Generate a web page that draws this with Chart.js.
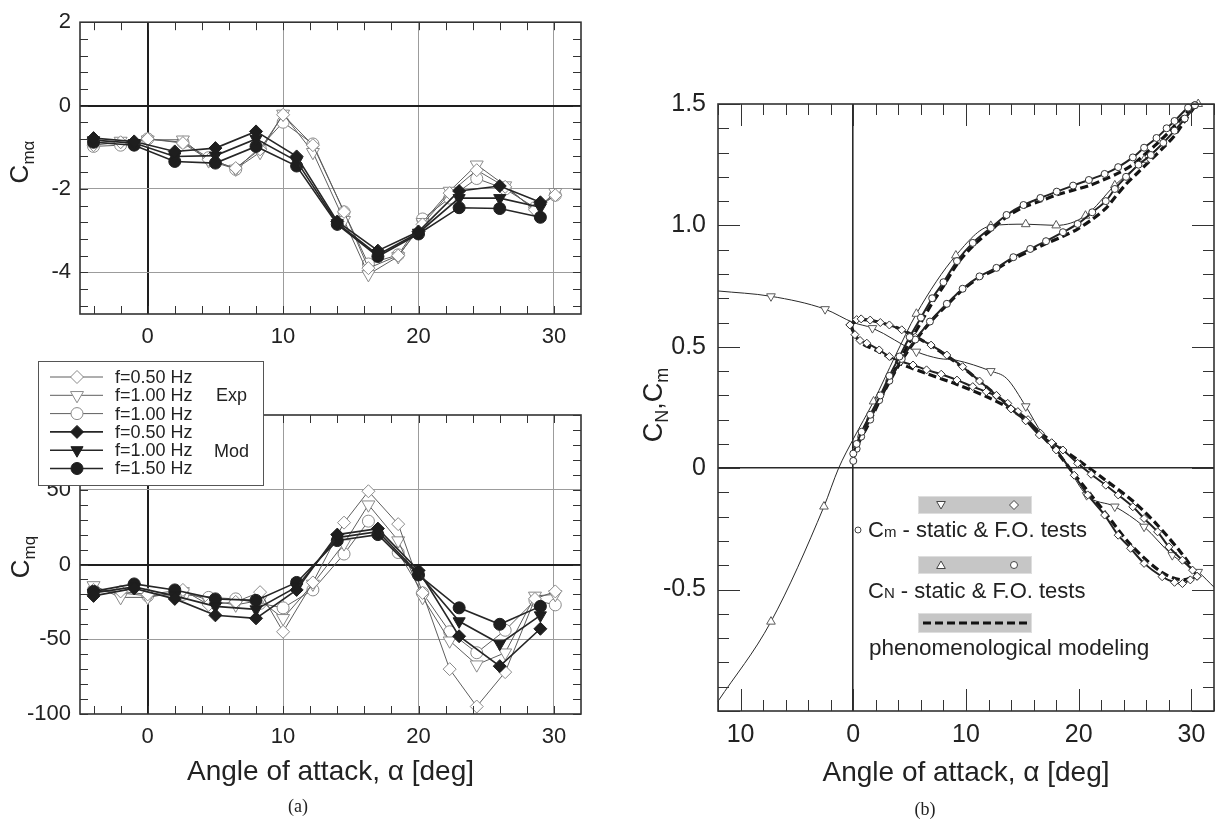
<!DOCTYPE html>
<html>
<head>
<meta charset="utf-8">
<title>Cm_alpha, Cm_q and CN, Cm vs angle of attack</title>
<script src="https://cdn.jsdelivr.net/npm/chart.js@4.4.1/dist/chart.umd.min.js"></script>
<style>
  body { margin: 0; background: #fff; }
  #wrap { position: relative; width: 1225px; height: 829px; overflow: hidden; background: #fff; }
  canvas { position: absolute; }
</style>
</head>
<body>
<div id="wrap">
  <canvas id="cma" width="600" height="352" style="left:0;top:0"></canvas>
  <canvas id="cmq" width="600" height="477" style="left:0;top:352px"></canvas>
  <canvas id="cncm" width="625" height="829" style="left:600px;top:0"></canvas>
</div>
<script>
// ---------- (a) damping / stiffness derivatives ----------
// experiment points and model points sit at different angles
const expAlpha = [-4, -2, 0, 2.6, 4.5, 6.5, 8.3, 10, 12.2, 14.5, 16.3, 18.5, 20.3, 22.3, 24.3, 26.4, 28.6, 30.1];
const modAlpha = [-4, -1, 2, 5, 8, 11, 14, 17, 20, 23, 26, 29];

const legendLabels = ['f=0.50 Hz', 'f=1.00 Hz', 'f=1.00 Hz', 'f=0.50 Hz', 'f=1.00 Hz', 'f=1.50 Hz'];

// C_m_alpha
const cmaExp050  = [-0.95, -0.88, -0.80, -0.90, -1.30, -1.50, -1.05, -0.22, -0.95, -2.55, -3.90, -3.60, -2.85, -2.10, -1.55, -1.95, -2.50, -2.15];
const cmaExp100  = [-0.90, -0.85, -0.82, -0.82, -1.32, -1.52, -1.12, -0.20, -1.12, -2.75, -4.05, -3.62, -2.80, -2.05, -1.42, -1.92, -2.52, -2.08];
const cmaExp100b = [-0.98, -0.95, -0.80, -0.88, -1.25, -1.53, -1.00, -0.40, -0.92, -2.55, -3.80, -3.58, -2.72, -2.22, -1.75, -2.00, -2.45, -2.15];
const cmaMod050  = [-0.78, -0.86, -1.10, -1.02, -0.62, -1.22, -2.78, -3.48, -3.02, -2.05, -1.93, -2.32];
const cmaMod100  = [-0.83, -0.90, -1.22, -1.20, -0.80, -1.33, -2.82, -3.58, -3.05, -2.22, -2.22, -2.44];
const cmaMod150  = [-0.88, -0.95, -1.34, -1.38, -0.98, -1.45, -2.85, -3.62, -3.08, -2.45, -2.47, -2.68];

// C_mq
const cmqExp050  = [-17, -18, -20, -17, -27, -25, -18.5, -45, -12, 28, 49, 27, -19, -70, -95, -72, -23, -18];
const cmqExp100  = [-14, -22, -22, -18, -24, -27, -24, -36, -13, 14, 40, 16, -22, -51, -67, -59, -21, -20];
const cmqExp100b = [-17, -19, -21, -20, -22, -23, -26, -29, -17, 7, 29, 8, -19, -45, -59, -44, -24, -27];
const cmqMod050  = [-21, -16, -23, -34, -36, -17, 20, 24, -4, -48, -68, -43];
const cmqMod100  = [-19, -15, -21, -28, -30, -15, 18, 22, -6, -38, -53, -34];
const cmqMod150  = [-18, -13, -17, -23, -24, -12, 16, 20, -7, -29, -40, -28];

const axisAlphaLabels = [0, 10, 20, 30];
const cmaLabels = [2, 0, -2, -4];
const cmqLabels = [50, 0, -50, -100];

// ---------- (b) normal force and pitching moment ----------
const cnStaticA = [-12, -7.3, -2.6, -1.3, 0, 1.8, 3.7, 5.6, 9.1, 12.2, 15.3, 18.0, 20.6, 23.2, 25.8, 28.3, 30.6];
const cnStaticV = [-0.96, -0.632, -0.158, 0.0, 0.12, 0.275, 0.46, 0.636, 0.876, 0.998, 1.005, 1.0, 1.04, 1.165, 1.27, 1.377, 1.5];

const cmStaticA = [-12, -7.3, -2.5, 0, 1.7, 5.6, 7.6, 9.1, 12.2, 13.6, 15.3, 16.8, 18.2, 20.7, 23.2, 25.8, 28.3, 30.6, 32];
const cmStaticV = [0.73, 0.708, 0.655, 0.60, 0.577, 0.48, 0.452, 0.445, 0.40, 0.37, 0.255, 0.14, 0.07, -0.111, -0.158, -0.241, -0.358, -0.427, -0.49];

// F.O. tests, C_N loop
const cnUpA = [0, 0.3, 0.74, 1.5, 2.4, 3.2, 4.1, 5.0, 6.0, 7.0, 8.0, 9.2, 10.6, 12.2, 13.6, 15.1, 16.6, 18.05, 19.5, 20.9, 22.3, 23.5, 24.8, 25.8, 26.9, 27.8, 28.5, 29.7, 30.3];
const cnUpV = [0.06, 0.10, 0.15, 0.22, 0.30, 0.38, 0.46, 0.54, 0.62, 0.70, 0.766, 0.853, 0.928, 0.99, 1.043, 1.084, 1.113, 1.139, 1.164, 1.187, 1.212, 1.24, 1.28, 1.32, 1.36, 1.40, 1.43, 1.485, 1.495];
const cnDnA = [30.3, 29.4, 28.5, 27.5, 26.4, 25.3, 24.2, 23.2, 22.4, 21.2, 19.9, 18.6, 17.1, 15.7, 14.2, 12.7, 11.2, 9.7, 8.3, 6.8, 5.5, 4.3, 3.2, 2.3, 1.5, 0.7, 0.3, 0];
const cnDnV = [1.495, 1.44, 1.39, 1.34, 1.29, 1.25, 1.20, 1.15, 1.10, 1.054, 1.006, 0.972, 0.935, 0.903, 0.869, 0.825, 0.79, 0.739, 0.677, 0.604, 0.53, 0.45, 0.36, 0.28, 0.20, 0.13, 0.08, 0.03];

// F.O. tests, C_m loop
const cmUpA = [-0.3, 0.3, 0.7, 1.5, 2.4, 3.2, 4.3, 5.5, 6.9, 8.3, 9.7, 11.2, 12.7, 14.0, 15.3, 16.5, 17.6, 18.6, 19.9, 21.1, 22.4, 23.5, 24.8, 25.8, 27.0, 28.0, 29.2, 30.1, 30.5];
const cmUpV = [0.59, 0.612, 0.615, 0.61, 0.60, 0.59, 0.57, 0.54, 0.507, 0.466, 0.418, 0.359, 0.30, 0.244, 0.195, 0.137, 0.105, 0.075, 0.02, -0.025, -0.07, -0.11, -0.159, -0.207, -0.262, -0.324, -0.379, -0.42, -0.445];
const cmDnA = [-0.3, 0.15, 0.6, 1.2, 2.3, 3.2, 4.2, 5.3, 6.5, 7.8, 9.2, 10.6, 11.8, 12.7, 13.7, 14.6, 15.5, 16.6, 18.0, 19.6, 20.8, 22.3, 23.5, 24.6, 25.8, 27.4, 28.5, 29.2, 29.9, 30.5];
const cmDnV = [0.59, 0.55, 0.526, 0.515, 0.487, 0.46, 0.44, 0.425, 0.405, 0.387, 0.363, 0.336, 0.315, 0.298, 0.267, 0.233, 0.20, 0.144, 0.075, -0.029, -0.11, -0.193, -0.276, -0.33, -0.392, -0.447, -0.47, -0.475, -0.46, -0.445];

// phenomenological modeling
const cnModUpA = [0, 1.5, 3.2, 4.1, 5.0, 6.0, 7.0, 8.0, 9.2, 10.6, 12.2, 13.6, 15.1, 16.6, 18.0, 19.5, 21.0, 22.3, 23.5, 24.8, 25.8, 26.9, 27.8, 28.5, 29.7, 30.3];
const cnModUpV = [0.08, 0.21, 0.36, 0.44, 0.52, 0.60, 0.68, 0.75, 0.84, 0.915, 0.98, 1.035, 1.075, 1.10, 1.125, 1.145, 1.165, 1.19, 1.215, 1.25, 1.29, 1.335, 1.375, 1.41, 1.47, 1.49];
const cnModDnA = [30.3, 29.4, 28.5, 27.5, 26.4, 25.3, 24.2, 23.2, 22.4, 21.2, 19.9, 18.6, 17.1, 15.7, 14.2, 12.7, 11.2, 9.7, 8.3, 6.8, 5.5, 4.3, 3.2, 2.3, 1.5, 0.7, 0];
const cnModDnV = [1.49, 1.43, 1.37, 1.32, 1.27, 1.22, 1.17, 1.115, 1.07, 1.025, 0.985, 0.955, 0.925, 0.895, 0.862, 0.82, 0.785, 0.735, 0.672, 0.60, 0.525, 0.445, 0.355, 0.275, 0.195, 0.125, 0.06];
const cmModUpA = [-0.3, 0.7, 2.4, 4.3, 6.9, 9.7, 12.7, 15.3, 17.6, 19.9, 22.4, 24.8, 27.0, 29.2, 30.5];
const cmModUpV = [0.59, 0.612, 0.60, 0.57, 0.505, 0.415, 0.30, 0.195, 0.11, 0.035, -0.05, -0.135, -0.235, -0.355, -0.44];
const cmModDnA = [-0.3, 0.6, 2.3, 4.2, 6.5, 9.2, 11.8, 13.7, 15.5, 18.0, 19.6, 22.3, 24.6, 27.4, 29.2, 30.5];
const cmModDnV = [0.59, 0.52, 0.48, 0.43, 0.39, 0.345, 0.295, 0.25, 0.19, 0.07, -0.025, -0.18, -0.315, -0.43, -0.46, -0.44];

const alphaLabelsB = [-10, 0, 10, 20, 30];
const coefLabels = [1.5, 1.0, 0.5, 0, -0.5];

// ---------- drawing helpers ----------
const FONT = '"Liberation Sans", Arial, Helvetica, sans-serif';
Chart.defaults.font.family = FONT;
Chart.defaults.color = '#222';

function range(a, b, s) {
  const r = [];
  for (let v = a; v <= b + 1e-9; v += s) r.push(Math.round(v * 1000) / 1000);
  return r;
}
const near = (list, v) => list.some(l => Math.abs(l - v) < 1e-6);
const pts = (xs, ys) => xs.map((x, i) => ({x, y: ys[i]}));

// frame + inward tick marks on all four sides
const frameTicks = {
  id: 'frameTicks',
  afterDatasetsDraw(chart, args, o) {
    const {ctx, chartArea: a} = chart;
    const xs = chart.scales.x, ys = chart.scales.y;
    ctx.save();
    ctx.strokeStyle = '#333';
    ctx.lineWidth = 1;
    ctx.beginPath();
    o.xMarks.forEach(v => {
      const p = Math.round(xs.getPixelForValue(v)) + 0.5;
      const len = near(o.xLong, v) ? o.long : o.short;
      ctx.moveTo(p, a.bottom); ctx.lineTo(p, a.bottom - len);
      ctx.moveTo(p, a.top); ctx.lineTo(p, a.top + len);
    });
    o.yMarks.forEach(v => {
      const p = Math.round(ys.getPixelForValue(v)) + 0.5;
      const len = near(o.yLong, v) ? o.long : o.short;
      ctx.moveTo(a.left, p); ctx.lineTo(a.left + len, p);
      ctx.moveTo(a.right, p); ctx.lineTo(a.right - len, p);
    });
    ctx.stroke();
    ctx.lineWidth = 1.6;
    ctx.strokeRect(a.left, a.top, a.width, a.height);
    ctx.restore();
  }
};

// rotated axis title with subscripts, plus a caption
const labels = {
  id: 'labels',
  afterDraw(chart, args, o) {
    const ctx = chart.ctx;
    ctx.save();
    ctx.fillStyle = '#222';
    ctx.textBaseline = 'alphabetic';
    let total = 0;
    o.parts.forEach(p => { ctx.font = p.size + 'px ' + FONT; p.w = ctx.measureText(p.t).width; total += p.w; });
    ctx.translate(o.x, o.y);
    ctx.rotate(-Math.PI / 2);
    let u = -total / 2;
    o.parts.forEach(p => { ctx.font = p.size + 'px ' + FONT; ctx.fillText(p.t, u, p.dy); u += p.w; });
    ctx.restore();
    if (o.caption) {
      ctx.save();
      ctx.fillStyle = '#222';
      ctx.font = '18px "Liberation Serif", "Times New Roman", serif';
      ctx.textAlign = 'center';
      ctx.textBaseline = 'middle';
      ctx.fillText(o.caption.text, o.caption.x, o.caption.y);
      ctx.restore();
    }
  }
};

function axis(min, max, tickVals, size, horiz, fontSize, pad, gridFn, fmt, title) {
  return {
    type: 'linear', min, max,
    afterBuildTicks: s => { s.ticks = tickVals.map(v => ({value: v})); },
    afterFit: s => { if (horiz) s.height = size; else s.width = size; },
    ticks: { autoSkip: false, maxRotation: 0, padding: pad, font: {size: fontSize}, color: '#222',
             callback: fmt || (v => String(v)) },
    grid: { drawTicks: false, color: c => gridFn(c.tick.value).c, lineWidth: c => gridFn(c.tick.value).w },
    border: { display: false },
    title: title || { display: false }
  };
}

// ---------- (a) charts ----------
const seriesStyle = [
  {style: 'rectRot',  rot: 0,   r: 6.5, fill: '#fff',    edge: '#8a8a8a', line: '#5e5e5e', lw: 1},
  {style: 'triangle', rot: 180, r: 7.5, fill: '#fff',    edge: '#8a8a8a', line: '#5e5e5e', lw: 1},
  {style: 'circle',   rot: 0,   r: 6,   fill: '#fff',    edge: '#8a8a8a', line: '#5e5e5e', lw: 1},
  {style: 'rectRot',  rot: 0,   r: 6.5, fill: '#1e1e1e', edge: '#1e1e1e', line: '#262626', lw: 1.6},
  {style: 'triangle', rot: 180, r: 7,   fill: '#1e1e1e', edge: '#1e1e1e', line: '#262626', lw: 1.6},
  {style: 'circle',   rot: 0,   r: 6,   fill: '#1e1e1e', edge: '#1e1e1e', line: '#262626', lw: 1.6}
];

const gridA = zero => v => v === 0 ? {c: '#1e1e1e', w: 2} : (v === zero ? {c: 'rgba(0,0,0,0)', w: 1} : {c: '#9c9c9c', w: 1});

const legendA = {
  id: 'legendA',
  afterDraw(chart) {
    const ctx = chart.ctx;
    ctx.save();
    ctx.fillStyle = '#fff';
    ctx.fillRect(38, 9, 225, 124);
    ctx.strokeStyle = '#555';
    ctx.lineWidth = 1;
    ctx.strokeRect(38.5, 9.5, 225, 124);
    chart.data.datasets.forEach((ds, i) => {
      const s = seriesStyle[i];
      const y = 25 + i * 18.3;
      ctx.strokeStyle = s.line;
      ctx.lineWidth = s.lw;
      ctx.beginPath(); ctx.moveTo(50, y); ctx.lineTo(103, y); ctx.stroke();
      ctx.fillStyle = s.fill;
      ctx.strokeStyle = s.edge;
      ctx.lineWidth = 1;
      Chart.helpers.drawPoint(ctx, {pointStyle: s.style, rotation: s.rot, radius: s.r, borderWidth: 1}, 77, y);
      ctx.fillStyle = '#222';
      ctx.font = '18px ' + FONT;
      ctx.textBaseline = 'middle';
      ctx.fillText(ds.label, 115, y + 1);
    });
    ctx.font = '18px ' + FONT;
    ctx.fillText('Exp', 216, 44);
    ctx.fillText('Mod', 214, 100);
    ctx.restore();
  }
};

function leftChart(id, series, cfg) {
  const datasets = series.map((ys, i) => {
    const s = seriesStyle[i];
    const xs = i < 3 ? expAlpha : modAlpha;
    return {
      label: legendLabels[i], data: pts(xs, ys),
      borderColor: s.line, borderWidth: s.lw,
      pointStyle: s.style, pointRotation: s.rot, pointRadius: s.r,
      pointBackgroundColor: s.fill, pointBorderColor: s.edge, pointBorderWidth: 1,
      tension: 0, order: i < 3 ? 2 : 1
    };
  });
  return new Chart(document.getElementById(id), {
    type: 'line',
    data: { datasets },
    options: {
      responsive: false, animation: false, events: [],
      layout: { padding: { top: cfg.top, right: 19, left: 0, bottom: 0 } },
      scales: {
        x: axis(-5, 32, axisAlphaLabels, cfg.xh, true, 22, 10, gridA(null), null, cfg.xTitle),
        y: axis(cfg.min, cfg.max, cfg.yLabels, 80, false, 22, 9, gridA(cfg.max === 2 ? 2 : -100))
      },
      plugins: {
        legend: { display: false }, tooltip: { enabled: false },
        frameTicks: { xMarks: range(-4, 30, 2), xLong: [], yMarks: cfg.yMarks, yLong: [], short: 8, long: 8 },
        labels: cfg.labels
      }
    },
    plugins: [frameTicks, labels].concat(cfg.extra || [])
  });
}

leftChart('cma', [cmaExp050, cmaExp100, cmaExp100b, cmaMod050, cmaMod100, cmaMod150], {
  top: 13, xh: 38, min: -5, max: 2, yLabels: cmaLabels, yMarks: range(-4.8, 2, 0.4),
  labels: { x: 28, y: 162, parts: [{t: 'C', size: 26, dy: 0}, {t: 'mα', size: 17, dy: 6}] }
});

leftChart('cmq', [cmqExp050, cmqExp100, cmqExp100b, cmqMod050, cmqMod100, cmqMod150], {
  top: 63, xh: 115, min: -100, max: 100, yLabels: cmqLabels, yMarks: range(-100, 100, 10),
  xTitle: { display: true, text: 'Angle of attack, α [deg]', font: { size: 28 }, color: '#222', padding: { top: 0, bottom: 40 } },
  labels: { x: 29, y: 205, parts: [{t: 'C', size: 26, dy: 0}, {t: 'mq', size: 17, dy: 6}],
            caption: { text: '(a)', x: 298, y: 455 } },
  extra: [legendA]
});

// ---------- (b) chart ----------
const cnStaticBare = [0, 3, 4, 6, 15];
const cmStaticBare = [0, 3, 6, 7, 9, 11, 12, 18];

const legendB = {
  id: 'legendB',
  afterDraw(chart) {
    const ctx = chart.ctx;
    ctx.save();
    const box = (y, h) => {
      ctx.fillStyle = '#c6c6c6'; ctx.fillRect(318, y, 114, h);
      ctx.strokeStyle = '#dedede'; ctx.lineWidth = 1; ctx.strokeRect(318.5, y + 0.5, 113, h - 1);
    };
    const mark = (style, rot, r, x, y) => {
      ctx.fillStyle = '#fff'; ctx.strokeStyle = '#444'; ctx.lineWidth = 1;
      Chart.helpers.drawPoint(ctx, {pointStyle: style, rotation: rot, radius: r, borderWidth: 1}, x, y);
    };
    box(496, 18); mark('triangle', 180, 5, 341, 504); mark('rectRot', 0, 4.5, 414, 505);
    box(556, 18); mark('triangle', 0, 5, 341, 566); mark('circle', 0, 3.5, 414, 565);
    box(613, 20);
    ctx.strokeStyle = '#111'; ctx.lineWidth = 3.2; ctx.setLineDash([8, 4]);
    ctx.beginPath(); ctx.moveTo(323, 623); ctx.lineTo(429, 623); ctx.stroke();
    ctx.setLineDash([]);
    mark('circle', 0, 3, 258, 530);
    ctx.fillStyle = '#222';
    ctx.textBaseline = 'alphabetic';
    const txt = (parts, x, y) => {
      parts.forEach(p => { ctx.font = p[1] + 'px ' + FONT; ctx.fillText(p[0], x, y); x += ctx.measureText(p[0]).width; });
    };
    txt([['C', 22], ['m', 15], [' - static & F.O. tests', 22]], 268, 537);
    txt([['C', 22], ['N', 15], [' - static & F.O. tests', 22]], 268, 598);
    txt([['phenomenological modeling', 22.5]], 269, 655);
    ctx.restore();
  }
};

const staticStyle = (bare, rot) => ({
  borderColor: '#2a2a2a', borderWidth: 1, cubicInterpolationMode: 'monotone',
  pointStyle: 'triangle', pointRotation: rot, pointRadius: c => bare.includes(c.dataIndex) ? 0 : 5,
  pointBackgroundColor: '#fff', pointBorderColor: '#5a5a5a', pointBorderWidth: 1, order: 3, clip: 10
});
const dynStyle = (style, r) => ({
  borderColor: '#222', borderWidth: 2, tension: 0.3,
  pointStyle: style, pointRadius: r, pointBackgroundColor: '#fff', pointBorderColor: '#333', pointBorderWidth: 1,
  order: 1, clip: 10
});
const modStyle = {
  borderColor: '#141414', borderWidth: 3.2, borderDash: [8, 4], tension: 0.3, pointRadius: 0, order: 5, clip: 10
};

const gridB = v => v === 0 ? {c: '#2a2a2a', w: 1.6} : {c: 'rgba(0,0,0,0)', w: 1};

new Chart(document.getElementById('cncm'), {
  type: 'line',
  data: {
    datasets: [
      Object.assign({ label: 'Cm static', data: pts(cmStaticA, cmStaticV) }, staticStyle(cmStaticBare, 180)),
      Object.assign({ label: 'CN static', data: pts(cnStaticA, cnStaticV) }, staticStyle(cnStaticBare, 0)),
      Object.assign({ label: 'CN F.O. up', data: pts(cnUpA, cnUpV) }, dynStyle('circle', 3.5)),
      Object.assign({ label: 'CN F.O. down', data: pts(cnDnA, cnDnV) }, dynStyle('circle', 3.5)),
      Object.assign({ label: 'Cm F.O. up', data: pts(cmUpA, cmUpV) }, dynStyle('rectRot', 4)),
      Object.assign({ label: 'Cm F.O. down', data: pts(cmDnA, cmDnV) }, dynStyle('rectRot', 4)),
      Object.assign({ label: 'CN model up', data: pts(cnModUpA, cnModUpV) }, modStyle),
      Object.assign({ label: 'CN model down', data: pts(cnModDnA, cnModDnV) }, modStyle),
      Object.assign({ label: 'Cm model up', data: pts(cmModUpA, cmModUpV) }, modStyle),
      Object.assign({ label: 'Cm model down', data: pts(cmModDnA, cmModDnV) }, modStyle)
    ]
  },
  options: {
    responsive: false, animation: false, events: [],
    layout: { padding: { top: 104, right: 11, left: 0, bottom: 0 } },
    scales: {
      x: axis(-12, 32, alphaLabelsB, 118, true, 25, 9, gridB, v => String(Math.abs(v)),
              { display: true, text: 'Angle of attack, α [deg]', font: { size: 28 }, color: '#222', padding: { top: 0, bottom: 39 } }),
      y: axis(-1, 1.5, coefLabels, 118, false, 25, 12, gridB, v => v === 0 ? '0' : v.toFixed(1))
    },
    plugins: {
      legend: { display: false }, tooltip: { enabled: false },
      frameTicks: { xMarks: range(-12, 32, 2), xLong: [-10, 0, 10, 20, 30], yMarks: range(-1, 1.5, 0.1),
                    yLong: [-1, -0.5, 0, 0.5, 1, 1.5], short: 11, long: 22 },
      labels: { x: 62, y: 405, parts: [{t: 'C', size: 27, dy: 0}, {t: 'N', size: 18, dy: 6}, {t: ',C', size: 27, dy: 0}, {t: 'm', size: 18, dy: 6}],
                caption: { text: '(b)', x: 325, y: 810 } }
    }
  },
  plugins: [frameTicks, labels, legendB]
});
</script>
</body>
</html>
